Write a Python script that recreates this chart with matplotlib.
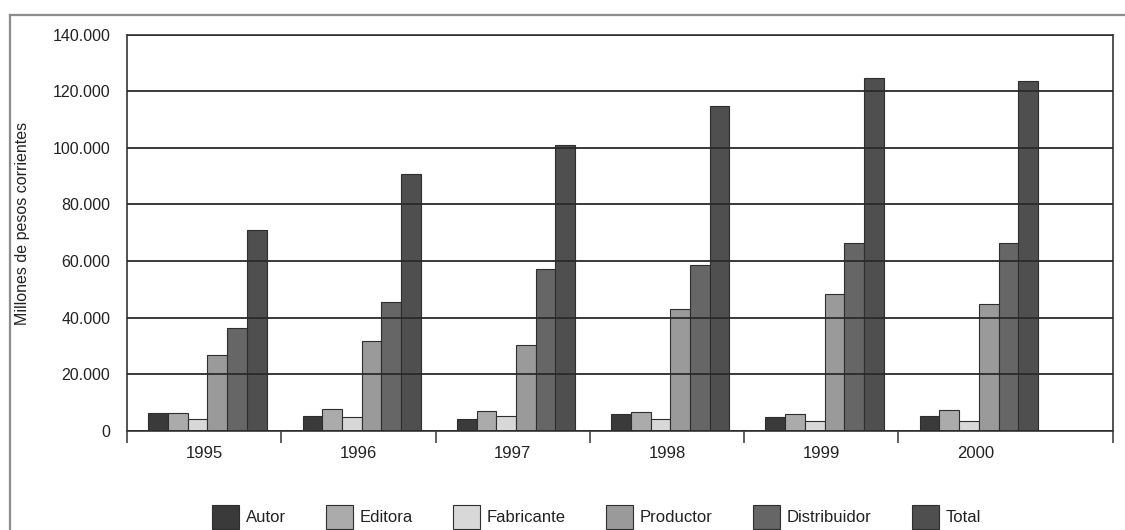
import matplotlib
matplotlib.use("Agg")
import matplotlib.pyplot as plt
from matplotlib.lines import Line2D
import numpy as np

plt.rcParams['font.family'] = ['Liberation Sans', 'DejaVu Sans']

# data (millones de pesos corrientes)
years = ['1995', '1996', '1997', '1998', '1999', '2000']
series = ['Autor', 'Editora', 'Fabricante', 'Productor', 'Distribuidor', 'Total']
autor = [6500, 5400, 4400, 5900, 4900, 5300]
editora = [6500, 7700, 7100, 6800, 6100, 7300]
fabricante = [4100, 5100, 5300, 4400, 3500, 3500]
productor = [26800, 31900, 30400, 43100, 48200, 45000]
distribuidor = [36300, 45500, 57100, 58600, 66400, 66400]
total = [71000, 90700, 101000, 114700, 124600, 123600]
yticks = [0, 20000, 40000, 60000, 80000, 100000, 120000, 140000]
ytick_labels = ['0', '20.000', '40.000', '60.000', '80.000', '100.000', '120.000', '140.000']

colors = ['#3a3a3a', '#ababab', '#d8d8d8', '#9a9a9a', '#666666', '#4f4f4f']
values = [autor, editora, fabricante, productor, distribuidor, total]

fig = plt.figure(figsize=(11.25, 5.3), dpi=100)
ax = fig.add_axes([0.1129, 0.1868, 0.8764, 0.7481])

x = np.arange(len(years))
bw = 0.1277
start = 0.138
for k, (name, vals) in enumerate(zip(series, values)):
    ax.bar(x + start + k * bw, vals, width=bw, align='edge', color=colors[k],
           edgecolor='#2e2e2e', linewidth=0.8, label=name)

xmax = 6.39
ax.set_xlim(0, xmax)
ax.set_ylim(0, 140000)

# gridlines over the bars
ax.set_axisbelow(False)
ax.yaxis.grid(True, color='#2a2a2a', linewidth=1.3)

ax.set_yticks(yticks)
ax.set_yticklabels(ytick_labels)
ax.tick_params(axis='y', length=0, pad=12, labelsize=11.5, labelcolor='#222222')

# boundary tick marks below the axis, year labels centred between them
ax.set_xticks(list(np.arange(len(years) + 0.0)) + [xmax])
ax.set_xticklabels([])
ax.tick_params(axis='x', which='major', direction='out', length=8.6, width=1.2, color='#444444')
ax.set_xticks(x + 0.5, minor=True)
ax.set_xticklabels(years, minor=True)
ax.tick_params(axis='x', which='minor', length=0, pad=11, labelsize=12, labelcolor='#222222')

for s in ax.spines.values():
    s.set_color('#444444')
    s.set_linewidth(1.3)

fig.text(0.0196, 0.579, 'Millones de pesos corrientes', rotation=90,
         ha='center', va='center', fontsize=11.5, color='#222222')

fig.legend(loc='center', bbox_to_anchor=(0.530, 0.0245), ncol=6, frameon=False,
           fontsize=12, handlelength=1.62, handleheight=1.8, handletextpad=0.42,
           columnspacing=2.4, borderpad=0, borderaxespad=0, labelcolor='#222222')

# outer frame remnants (top and left)
fig.add_artist(Line2D([10 / 1125, 1.0], [1 - 15 / 530, 1 - 15 / 530],
                      transform=fig.transFigure, color='#8c8c8c', linewidth=1.6))
fig.add_artist(Line2D([10 / 1125, 10 / 1125], [0, 1 - 15 / 530],
                      transform=fig.transFigure, color='#8c8c8c', linewidth=1.6))

fig.savefig('out.png', dpi=100)
